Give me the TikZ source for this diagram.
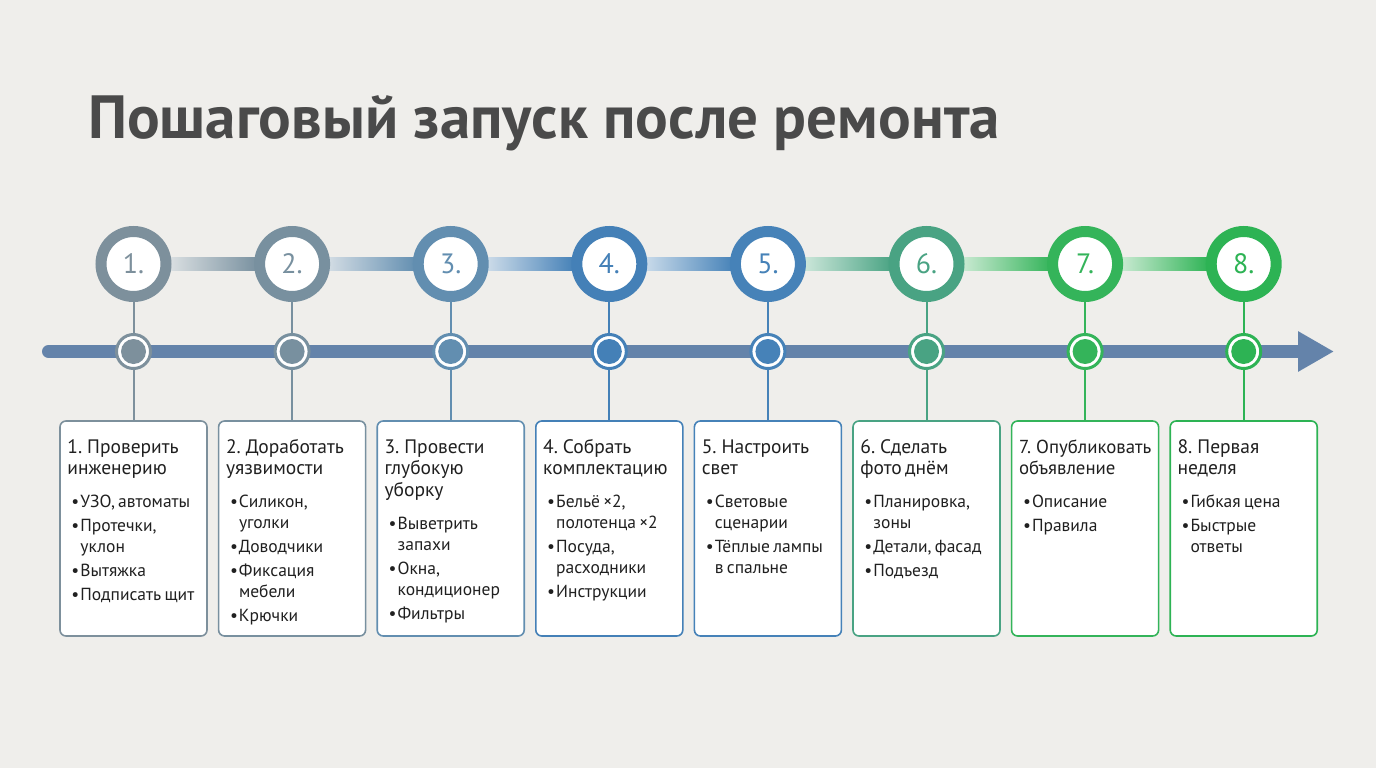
\documentclass[tikz,border=0pt]{standalone}
\usepackage{fontspec}
\setmainfont{PT Sans}
\usetikzlibrary{arrows.meta,calc}
\setlength{\parskip}{0pt}
\definecolor{bgc}{HTML}{EFEEEB}
\definecolor{titlec}{HTML}{4A4A4A}
\definecolor{txt}{HTML}{202020}
\definecolor{axisc}{HTML}{6483AA}
\definecolor{s1}{HTML}{7D909C}
\definecolor{s2}{HTML}{78909F}
\definecolor{s3}{HTML}{628EB0}
\definecolor{s4}{HTML}{4480B7}
\definecolor{s5}{HTML}{4682B8}
\definecolor{s6}{HTML}{49A383}
\definecolor{s7}{HTML}{34B45A}
\definecolor{s8}{HTML}{2DB354}
\definecolor{l1}{HTML}{DCE1E3}
\definecolor{l2}{HTML}{D5DEE5}
\definecolor{l3}{HTML}{D0DEEA}
\definecolor{l4}{HTML}{CCDDEB}
\definecolor{l5}{HTML}{CFE8DC}
\definecolor{l6}{HTML}{CDEBD5}
\definecolor{l7}{HTML}{CDEBD5}
\pgfdeclarelayer{canvas}
\pgfdeclarelayer{back}
\pgfsetlayers{canvas,back,main}
\newcommand\bhead[2][19.5]{{\fontsize{#1}{21.5}\selectfont\rule{0pt}{16pt}#2\par}}
\newcommand\bfirst[1]{\par\vspace{12pt}{\fontsize{17.5}{21}\selectfont\hangindent=13pt\hangafter=1\noindent\hbox to 13pt{\hskip 4pt •\hfil}#1\par}}
\newcommand\bnext[1]{\par\vspace{3pt}{\fontsize{17.5}{21}\selectfont\hangindent=13pt\hangafter=1\noindent\hbox to 13pt{\hskip 4pt •\hfil}#1\par}}
\begin{document}
\begin{tikzpicture}[x=1pt,y=-1pt,
  topcirc/.style={circle, draw=#1, line width=11pt, fill=white, minimum size=65pt, inner sep=0pt, text=#1, font=\fontsize{28}{28}\selectfont},
  card/.style={draw=#1, line width=1.6pt, fill=white, rounded corners=6pt, minimum width=147pt, minimum height=215pt, inner sep=0pt},
  dotc/.style={circle, draw=#1, line width=3pt, fill=white, minimum size=34pt, inner sep=0pt,
     path picture={\fill[#1] (path picture bounding box.center) circle[radius=12.5pt];}},
  cardtext/.style={anchor=north west, inner sep=0pt, text width=142pt, text=txt},
  stem/.style={draw=#1, line width=2pt},
  axisline/.style={draw=axisc, line width=13pt, line cap=round}
]
\begin{pgfonlayer}{canvas}
\fill[bgc] (0,0) rectangle (1376,768);
\end{pgfonlayer}
\useasboundingbox (0,0) rectangle (1376,768);

\node[anchor=base west, inner sep=0pt, text=titlec, font=\fontsize{61}{61}\selectfont\bfseries] (title) at (88,138) {Пошаговый запуск после ремонта};

\foreach \i/\x in {1/133.5, 2/292.1, 3/450.7, 4/609.3, 5/767.9, 6/926.5, 7/1085.1, 8/1243.7} {
  \node[topcirc=s\i] (c\i) at (\x,264) {\i.};
  \node[card=s\i] (box\i) at (\x,528.5) {};
  \node[dotc=s\i] (d\i) at (\x,351.5) {};
}

\coordinate (axs) at (48.5,351.5);
\coordinate (axe) at (1334,351.5);

\begin{pgfonlayer}{back}
  \foreach \i/\j in {1/2,2/3,3/4,4/5,5/6,6/7,7/8} {
    \shade[left color=l\i, right color=s\j] ($(c\i.east)+(-4,-6.5)$) rectangle ($(c\j.west)+(4,6.5)$);
  }
  \draw[axisline, -{Triangle[length=36pt,width=38pt]}] (axs) -- (axe);
  \foreach \i in {1,...,8} {
    \draw[stem=s\i] (c\i.south) -- (box\i.north);
  }
\end{pgfonlayer}

\node[cardtext] (t1) at ($(box1.north west)+(8,17)$) {\bhead{1. Проверить\newline инженерию}\bfirst{УЗО, автоматы}\bnext{Протечки,\newline уклон}\bnext{Вытяжка}\bnext{Подписать щит}};
\node[cardtext] (t2) at ($(box2.north west)+(8,17)$) {\bhead{2. Доработать\newline уязвимости}\bfirst{Силикон,\newline уголки}\bnext{Доводчики}\bnext{Фиксация\newline мебели}\bnext{Крючки}};
\node[cardtext] (t3) at ($(box3.north west)+(8,17)$) {\bhead{3. Провести\newline глубокую\newline уборку}\bfirst{Выветрить\newline запахи}\bnext{Окна,\newline кондиционер}\bnext{Фильтры}};
\node[cardtext] (t4) at ($(box4.north west)+(8,17)$) {\bhead{4. Собрать\newline комплектацию}\bfirst{Бельё ×2,\newline полотенца ×2}\bnext{Посуда,\newline расходники}\bnext{Инструкции}};
\node[cardtext] (t5) at ($(box5.north west)+(8,17)$) {\bhead{5. Настроить\newline свет}\bfirst{Световые\newline сценарии}\bnext{Тёплые лампы\newline в спальне}};
\node[cardtext] (t6) at ($(box6.north west)+(8,17)$) {\bhead{6. Сделать\newline фото днём}\bfirst{Планировка,\newline зоны}\bnext{Детали, фасад}\bnext{Подъезд}};
\node[cardtext] (t7) at ($(box7.north west)+(8,17)$) {\bhead[18.8]{7. Опубликовать\newline объявление}\bfirst{Описание}\bnext{Правила}};
\node[cardtext] (t8) at ($(box8.north west)+(8,17)$) {\bhead{8. Первая\newline неделя}\bfirst{Гибкая цена}\bnext{Быстрые\newline ответы}};
\end{tikzpicture}
\end{document}
